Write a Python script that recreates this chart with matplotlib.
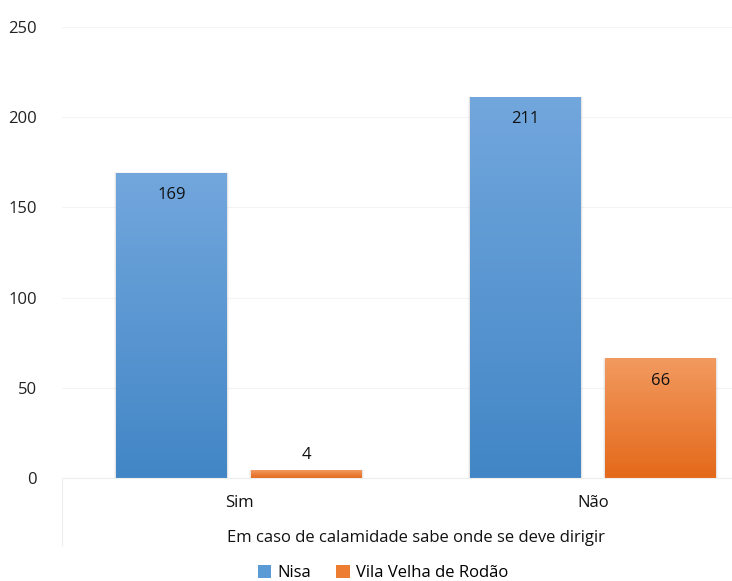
import numpy as np
import matplotlib
matplotlib.use("Agg")
import matplotlib.pyplot as plt
from matplotlib.colors import LinearSegmentedColormap
from matplotlib.patches import Rectangle

plt.rcParams['font.family'] = ['Open Sans', 'DejaVu Sans']

# data
categories = ["Sim", "Não"]
series_names = ["Nisa", "Vila Velha de Rodão"]
nisa = [169, 211]
vila = [4, 66]
axis_title = "Em caso de calamidade sabe onde se deve dirigir"

W, H = 732, 581
fig = plt.figure(figsize=(W / 100, H / 100), dpi=100)
ax = fig.add_axes([62 / W, 1 - 478 / H, 1 - 62 / W, (478 - 27) / H])

grads = [("#72a7dd", "#4286c6"), ("#f29a60", "#e4691a")]
solid = ["#5b9bd5", "#ed7d31"]
width = 0.313
offset = 0.19
fs = 12

x = np.arange(len(categories))
for k, (vals, sign) in enumerate([(nisa, -1), (vila, 1)]):
    cmap = LinearSegmentedColormap.from_list("g%d" % k, [grads[k][1], grads[k][0]])
    for xi, v in zip(x, vals):
        left = xi + sign * offset - width / 2
        # soft shadow
        for d, a in [(0.006, 0.04), (0.003, 0.06)]:
            ax.add_patch(Rectangle((left - d, 0), width + 2 * d, v + d * 60,
                                   facecolor="#000000", alpha=a,
                                   edgecolor="none", zorder=1))
        grad = np.linspace(0, 1, 256).reshape(-1, 1)
        ax.imshow(grad, cmap=cmap, origin="lower", aspect="auto",
                  extent=(left, left + width, 0, v), zorder=2)
        if v > 20:
            ax.text(xi + sign * offset, v - 12, str(v), ha="center", va="center",
                    fontsize=fs, color="#111111", zorder=3)
        else:
            ax.text(xi + sign * offset, v + 9, str(v), ha="center", va="center",
                    fontsize=fs, color="#111111", zorder=3)

ax.set_xlim(-0.5, 1.393)
ax.set_ylim(0, 250)

ax.set_yticks([0, 50, 100, 150, 200, 250])
ax.tick_params(axis="y", length=0, labelsize=fs, colors="#222222", pad=18)
ax.set_xticks([])
ax.yaxis.grid(True, color="#f4f4f4", linewidth=0.8)
ax.set_axisbelow(True)
for s in ["top", "right", "left"]:
    ax.spines[s].set_visible(False)
ax.spines["bottom"].set_color("#eeeeee")

# category labels and frame below axis
for xi, c in zip(x, categories):
    ax.text(xi, -14, c, ha="center", va="center", fontsize=fs, color="#111111",
            clip_on=False)
ax.plot([-0.5, -0.5], [0, -37], color="#eeeeee", linewidth=0.8, clip_on=False)
ax.text(0.5, -33, axis_title, ha="center", va="center", fontsize=fs,
        color="#111111", clip_on=False)

# legend
handles = [Rectangle((0, 0), 1, 1, facecolor=solid[0]),
           Rectangle((0, 0), 1, 1, facecolor=solid[1])]
fig.legend(handles, series_names, loc="center", bbox_to_anchor=(383 / W, 1 - 573 / H),
           ncol=2, frameon=False, fontsize=fs, handlelength=0.8, handleheight=0.8,
           columnspacing=1.5, handletextpad=0.4)

fig.savefig("out.png", dpi=100)
